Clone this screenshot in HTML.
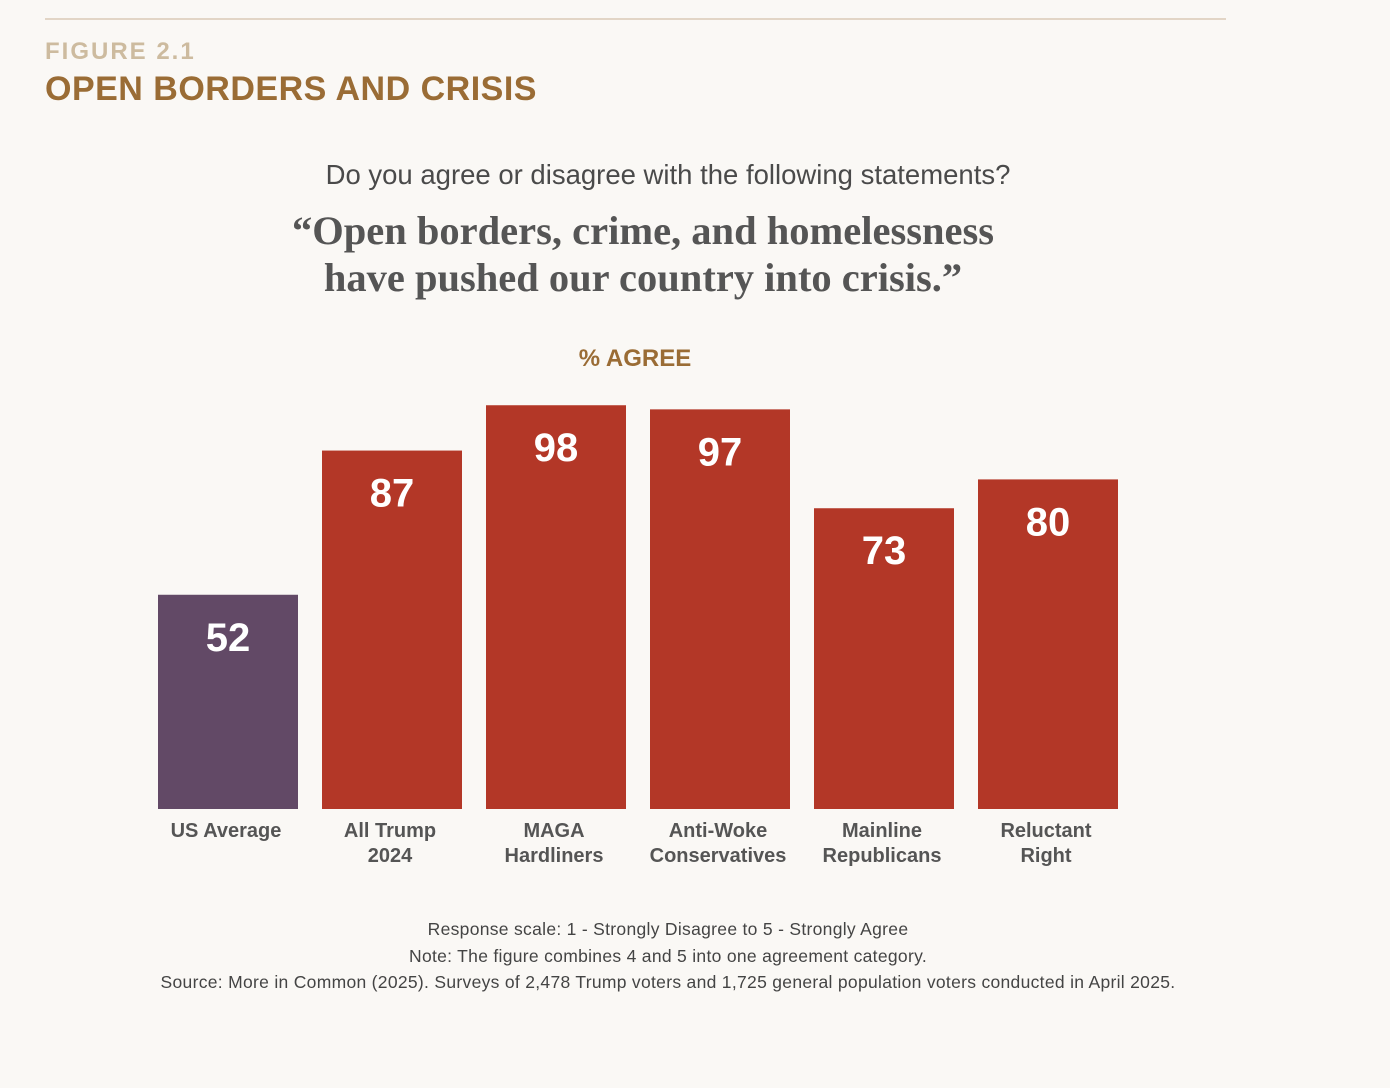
<!DOCTYPE html>
<html><head><meta charset="utf-8"><style>
body{margin:0;width:1390px;height:1088px;background:#faf8f5;position:relative;overflow:hidden;font-family:"Liberation Sans",sans-serif}
.a{position:absolute;white-space:nowrap}
</style></head><body>
<div class="a" style="left:45px;top:18px;width:1181px;height:2px;background:#e2d5c6"></div>
<div class="a" style="left:45px;top:38px;font-size:24px;font-weight:bold;letter-spacing:2px;color:#cdbb9f">FIGURE 2.1</div>
<div class="a" style="left:45px;top:70px;font-size:34px;font-weight:bold;letter-spacing:0.5px;color:#9a6c35">OPEN BORDERS AND CRISIS</div>
<div class="a" style="left:0;width:1336px;text-align:center;top:159px;font-size:27.5px;color:#4a4a4a">Do you agree or disagree with the following statements?</div>
<div class="a" style="left:0;width:1286px;text-align:center;top:207px;font-family:'Liberation Serif',serif;font-weight:bold;font-size:40.5px;line-height:47px;color:#555">“Open borders, crime, and homelessness<br>have pushed our country into crisis.”</div>
<div class="a" style="left:0;width:1270px;text-align:center;top:345px;font-size:24px;font-weight:bold;color:#9a6c35">% AGREE</div>
<svg id="chart" class="a" style="left:0;top:0" width="1390" height="1088"></svg>
<div class="a" style="left:0;width:1336px;text-align:center;top:916px;font-size:17.5px;letter-spacing:0.3px;line-height:26.5px;color:#444">Response scale: 1 - Strongly Disagree to 5 - Strongly Agree<br>Note: The figure combines 4 and 5 into one agreement category.<br>Source: More in Common (2025). Surveys of 2,478 Trump voters and 1,725 general population voters conducted in April 2025.</div>
<script>
const categories=[["US Average"],["All Trump","2024"],["MAGA","Hardliners"],["Anti-Woke","Conservatives"],["Mainline","Republicans"],["Reluctant","Right"]];
const values=[52,87,98,97,73,80];
const colors=["#624966","#b33727","#b33727","#b33727","#b33727","#b33727"];
const svg=document.getElementById('chart');
const NS="http://www.w3.org/2000/svg";
const base=809,scale=4.12,x0=158,step=164,bw=140;
const y=v=>base-v*scale;
values.forEach((v,i)=>{
 const r=document.createElementNS(NS,'rect');
 
 
 r.setAttribute('x',x0+i*step);r.setAttribute('y',y(v));r.setAttribute('width',bw);r.setAttribute('height',base-y(v));r.setAttribute('fill',colors[i]);
 svg.appendChild(r);
 const t=document.createElementNS(NS,'text');
 
 
 t.setAttribute('x',x0+i*step+bw/2);t.setAttribute('y',y(v)+56);t.setAttribute('text-anchor','middle');
 t.setAttribute('font-size','40');t.setAttribute('font-weight','bold');t.setAttribute('fill','#fff');t.setAttribute('font-family','Liberation Sans, sans-serif');
 t.textContent=v;svg.appendChild(t);
 categories[i].forEach((line,j)=>{
  const c=document.createElementNS(NS,'text');
  
  
  c.setAttribute('x',x0+i*step+bw/2-2);c.setAttribute('y',837+j*25);c.setAttribute('text-anchor','middle');
  c.setAttribute('font-size','20');c.setAttribute('font-weight','bold');c.setAttribute('fill','#555');c.setAttribute('font-family','Liberation Sans, sans-serif');
  c.textContent=line;svg.appendChild(c);
 });
});
</script>
</body></html>
